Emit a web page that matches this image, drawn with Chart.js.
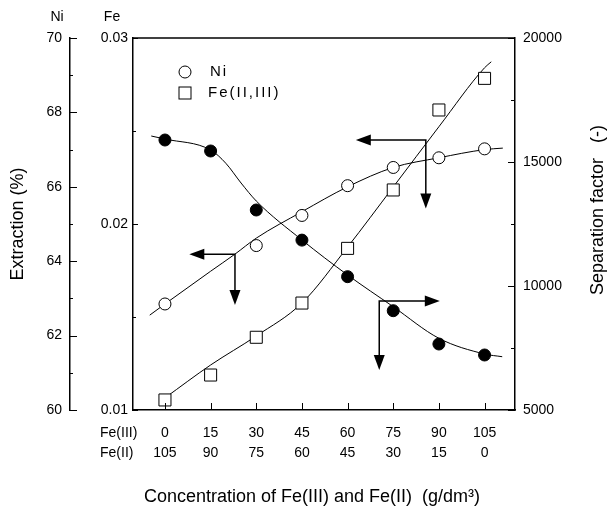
<!DOCTYPE html>
<html>
<head>
<meta charset="utf-8">
<script src="https://cdn.jsdelivr.net/npm/chart.js@4.4.1/dist/chart.umd.min.js"></script>
<style>
  html, body { margin: 0; padding: 0; background: #fff; }
  #wrap { width: 608px; height: 508px; }
</style>
</head>
<body>
<div id="wrap"><canvas id="extractionChart" width="608" height="508"></canvas></div>
<script>
// concentration categories: Fe(III) on the x axis, Fe(II) shown below
const feIIICats = [0, 15, 30, 45, 60, 75, 90, 105];
const feIICats = [105, 90, 75, 60, 45, 30, 15, 0];

// measured points
const niX = [0, 30, 45, 60, 75, 90, 105];
const niExtraction = [62.85, 64.42, 65.23, 66.03, 66.52, 66.78, 67.02];
const feExtraction = [0.01054, 0.01188, 0.01391, 0.01575, 0.01869, 0.02183, 0.02613, 0.02783];
const separationFactor = [15887, 15444, 13065, 11850, 10376, 9004, 7661, 7218];

// hand drawn trend lines
const niFitX = [-5, 0, 15, 23, 30, 45, 60, 75, 90, 105, 111];
const niFitY = [62.55, 62.85, 63.73, 64.19, 64.62, 65.33, 66.0, 66.52, 66.78, 67.0, 67.04];
const feFitX = [0, 15, 30, 45, 60, 75, 90, 105, 107.2];
const feFitY = [0.01065, 0.01242, 0.01398, 0.01575, 0.01876, 0.02199, 0.02523, 0.0284, 0.02872];
const sfFitX = [-4.5, 0, 15, 20, 25, 30, 45, 60, 75, 90, 105, 110.8];
const sfFitY = [16048, 15927, 15484, 14948, 14153, 13427, 11855, 10444, 9165, 7891, 7258, 7149];

// axis ticks
const niTicks = [60, 62, 64, 66, 68, 70];
const niMinor = [61, 63, 65, 67, 69];
const feTicks = [0.01, 0.02, 0.03];
const feMinor = [0.015, 0.025];
const sfTicks = [5000, 10000, 15000, 20000];
const sfMinor = [7500, 12500, 17500];

// arrows pointing at the axis each curve belongs to
const arrowAxis = ['ni', 'fe', 'sf'];
const arrowX = [23, 85.7, 70.4];
const arrowY = [64.19, 0.02452, 9395];
const arrowTipX = [8.0, 62.7, 90.3];
const arrowTipY = [62.82, 0.02084, 6613];

const FONT = "'Liberation Sans', Arial, Helvetica, sans-serif";
Chart.defaults.font.family = FONT;
Chart.defaults.font.size = 14;
Chart.defaults.color = '#000';

const toPoints = (xs, ys) => xs.map((x, i) => ({ x: x, y: ys[i] }));

function arrowHead(ctx, x, y, dx, dy) {
    // triangle pointing in direction (dx, dy)
    const len = 15, half = 5.5;
    ctx.beginPath();
    ctx.moveTo(x, y);
    ctx.lineTo(x - dx * len - dy * half, y - dy * len - dx * half);
    ctx.lineTo(x - dx * len + dy * half, y - dy * len + dx * half);
    ctx.closePath();
    ctx.fill();
}

const extras = {
    id: 'extras',
    afterDraw(chart) {
        const { ctx, chartArea: a, scales } = chart;
        const x = scales.x;
        ctx.save();
        ctx.strokeStyle = '#000';
        ctx.fillStyle = '#000';

        // top edge of the frame
        ctx.lineWidth = 1.5;
        ctx.beginPath();
        ctx.moveTo(a.left, a.top);
        ctx.lineTo(a.right, a.top);
        ctx.stroke();

        // inward tick marks
        ctx.lineWidth = 1;
        const yTicks = (scale, vals, x0, len) => vals.forEach(v => {
            const py = Math.round(scale.getPixelForValue(v)) + 0.5;
            ctx.beginPath();
            ctx.moveTo(x0, py);
            ctx.lineTo(x0 + len, py);
            ctx.stroke();
        });
        yTicks(scales.ni, niTicks, scales.ni.right, 7);
        yTicks(scales.ni, niMinor, scales.ni.right, 3);
        yTicks(scales.fe, feTicks, scales.fe.right, 5);
        yTicks(scales.fe, feMinor, scales.fe.right, 3);
        yTicks(scales.sf, sfTicks, scales.sf.left, -7);
        yTicks(scales.sf, sfMinor, scales.sf.left, -4);
        feIIICats.forEach(v => {
            const px = Math.round(x.getPixelForValue(v)) + 0.5;
            ctx.beginPath();
            ctx.moveTo(px, a.bottom);
            ctx.lineTo(px, a.bottom - 7);
            ctx.stroke();
        });

        // arrows
        ctx.lineWidth = 1.5;
        arrowAxis.forEach((id, i) => {
            const ys = scales[id];
            const ox = x.getPixelForValue(arrowX[i]);
            const oy = ys.getPixelForValue(arrowY[i]);
            const hx = x.getPixelForValue(arrowTipX[i]);
            const vy = ys.getPixelForValue(arrowTipY[i]);
            const dir = hx < ox ? -1 : 1;
            ctx.beginPath();
            ctx.moveTo(hx - dir * 10, oy);
            ctx.lineTo(ox, oy);
            ctx.lineTo(ox, vy - 10);
            ctx.stroke();
            arrowHead(ctx, hx, oy, dir, 0);
            arrowHead(ctx, ox, vy, 0, 1);
        });

        // legend
        const lx = a.left + 52;
        ctx.lineWidth = 1;
        ctx.beginPath();
        ctx.arc(lx, a.top + 34, 6, 0, Math.PI * 2);
        ctx.fillStyle = '#fff';
        ctx.fill();
        ctx.stroke();
        ctx.strokeRect(lx - 6, a.top + 49, 12, 12);
        ctx.fillStyle = '#000';
        ctx.font = '15px ' + FONT;
        ctx.textAlign = 'left';
        ctx.textBaseline = 'middle';
        ctx.letterSpacing = '2px';
        ctx.fillText('Ni', a.left + 77, a.top + 34);
        ctx.fillText('Fe(II,III)', a.left + 75, a.top + 55);
        ctx.letterSpacing = '0px';

        // axis headers and row names
        ctx.font = '14px ' + FONT;
        ctx.textAlign = 'center';
        ctx.fillText('Ni', 57, 17);
        ctx.fillText('Fe', 112, 17);
        ctx.textAlign = 'left';
        ctx.fillText('Fe(III)', 100, 433);
        ctx.fillText('Fe(II)', 100, 453);

        // x axis title
        ctx.font = '18px ' + FONT;
        ctx.textAlign = 'center';
        ctx.fillText('Concentration of Fe(III) and Fe(II)  (g/dm³)', 312, 497);

        // right axis title, reading upwards
        ctx.translate(598, 210);
        ctx.rotate(-Math.PI / 2);
        ctx.fillText('Separation factor   (-)', 0, 0);
        ctx.restore();
    }
};

const lineStyle = {
    showLine: true,
    pointRadius: 0,
    borderColor: '#000',
    borderWidth: 1,
    cubicInterpolationMode: 'monotone'
};

new Chart(document.getElementById('extractionChart'), {
    type: 'scatter',
    data: {
        datasets: [
            {
                label: 'Ni',
                data: toPoints(niX, niExtraction),
                yAxisID: 'ni',
                pointStyle: 'circle',
                pointRadius: 6,
                backgroundColor: '#fff',
                borderColor: '#000',
                borderWidth: 1
            },
            {
                label: 'Fe(II,III)',
                data: toPoints(feIIICats, feExtraction),
                yAxisID: 'fe',
                pointStyle: 'rect',
                pointRadius: 8.5,
                backgroundColor: '#fff',
                borderColor: '#000',
                borderWidth: 1
            },
            {
                label: 'Separation factor',
                data: toPoints(feIIICats, separationFactor),
                yAxisID: 'sf',
                pointStyle: 'circle',
                pointRadius: 6,
                backgroundColor: '#000',
                borderColor: '#000',
                borderWidth: 1
            },
            Object.assign({ label: 'Ni fit', data: toPoints(niFitX, niFitY), yAxisID: 'ni' }, lineStyle),
            Object.assign({ label: 'Fe fit', data: toPoints(feFitX, feFitY), yAxisID: 'fe' }, lineStyle),
            Object.assign({ label: 'SF fit', data: toPoints(sfFitX, sfFitY), yAxisID: 'sf' }, lineStyle)
        ]
    },
    options: {
        responsive: false,
        animation: false,
        layout: { padding: { top: 38, left: 0, right: 0, bottom: 0 } },
        plugins: {
            legend: { display: false },
            tooltip: { enabled: false }
        },
        scales: {
            x: {
                type: 'linear',
                min: -10.5,
                max: 115,
                afterBuildTicks: s => { s.ticks = feIIICats.map(v => ({ value: v })); },
                afterFit: s => { s.height = 98; },
                ticks: {
                    autoSkip: false,
                    maxRotation: 0,
                    padding: 13,
                    font: { size: 14, lineHeight: 1.43 },
                    callback: v => {
                        const i = feIIICats.indexOf(v);
                        return [String(feIIICats[i]), String(feIICats[i])];
                    }
                },
                grid: { display: false, drawTicks: false },
                border: { color: '#000', width: 1.5 }
            },
            ni: {
                position: 'left',
                weight: 2,
                min: 60,
                max: 70,
                afterBuildTicks: s => { s.ticks = niTicks.map(v => ({ value: v })); },
                afterFit: s => { s.width = 70; },
                ticks: { padding: 8, callback: v => String(v) },
                grid: { display: false, drawTicks: false },
                border: { color: '#000', width: 1.5 },
                title: {
                    display: true,
                    text: 'Extraction (%)',
                    font: { size: 18 },
                    padding: { top: 7, bottom: 0 }
                }
            },
            fe: {
                position: 'left',
                weight: 1,
                min: 0.01,
                max: 0.03,
                afterBuildTicks: s => { s.ticks = feTicks.map(v => ({ value: v })); },
                afterFit: s => { s.width = 63; },
                ticks: { padding: 5, callback: v => v.toFixed(2) },
                grid: { display: false, drawTicks: false },
                border: { color: '#000', width: 1.5 }
            },
            sf: {
                position: 'right',
                min: 5000,
                max: 20000,
                afterBuildTicks: s => { s.ticks = sfTicks.map(v => ({ value: v })); },
                afterFit: s => { s.width = 93; },
                ticks: { padding: 8, callback: v => String(v) },
                grid: { display: false, drawTicks: false },
                border: { color: '#000', width: 1.5 }
            }
        }
    },
    plugins: [extras]
});
</script>
</body>
</html>
